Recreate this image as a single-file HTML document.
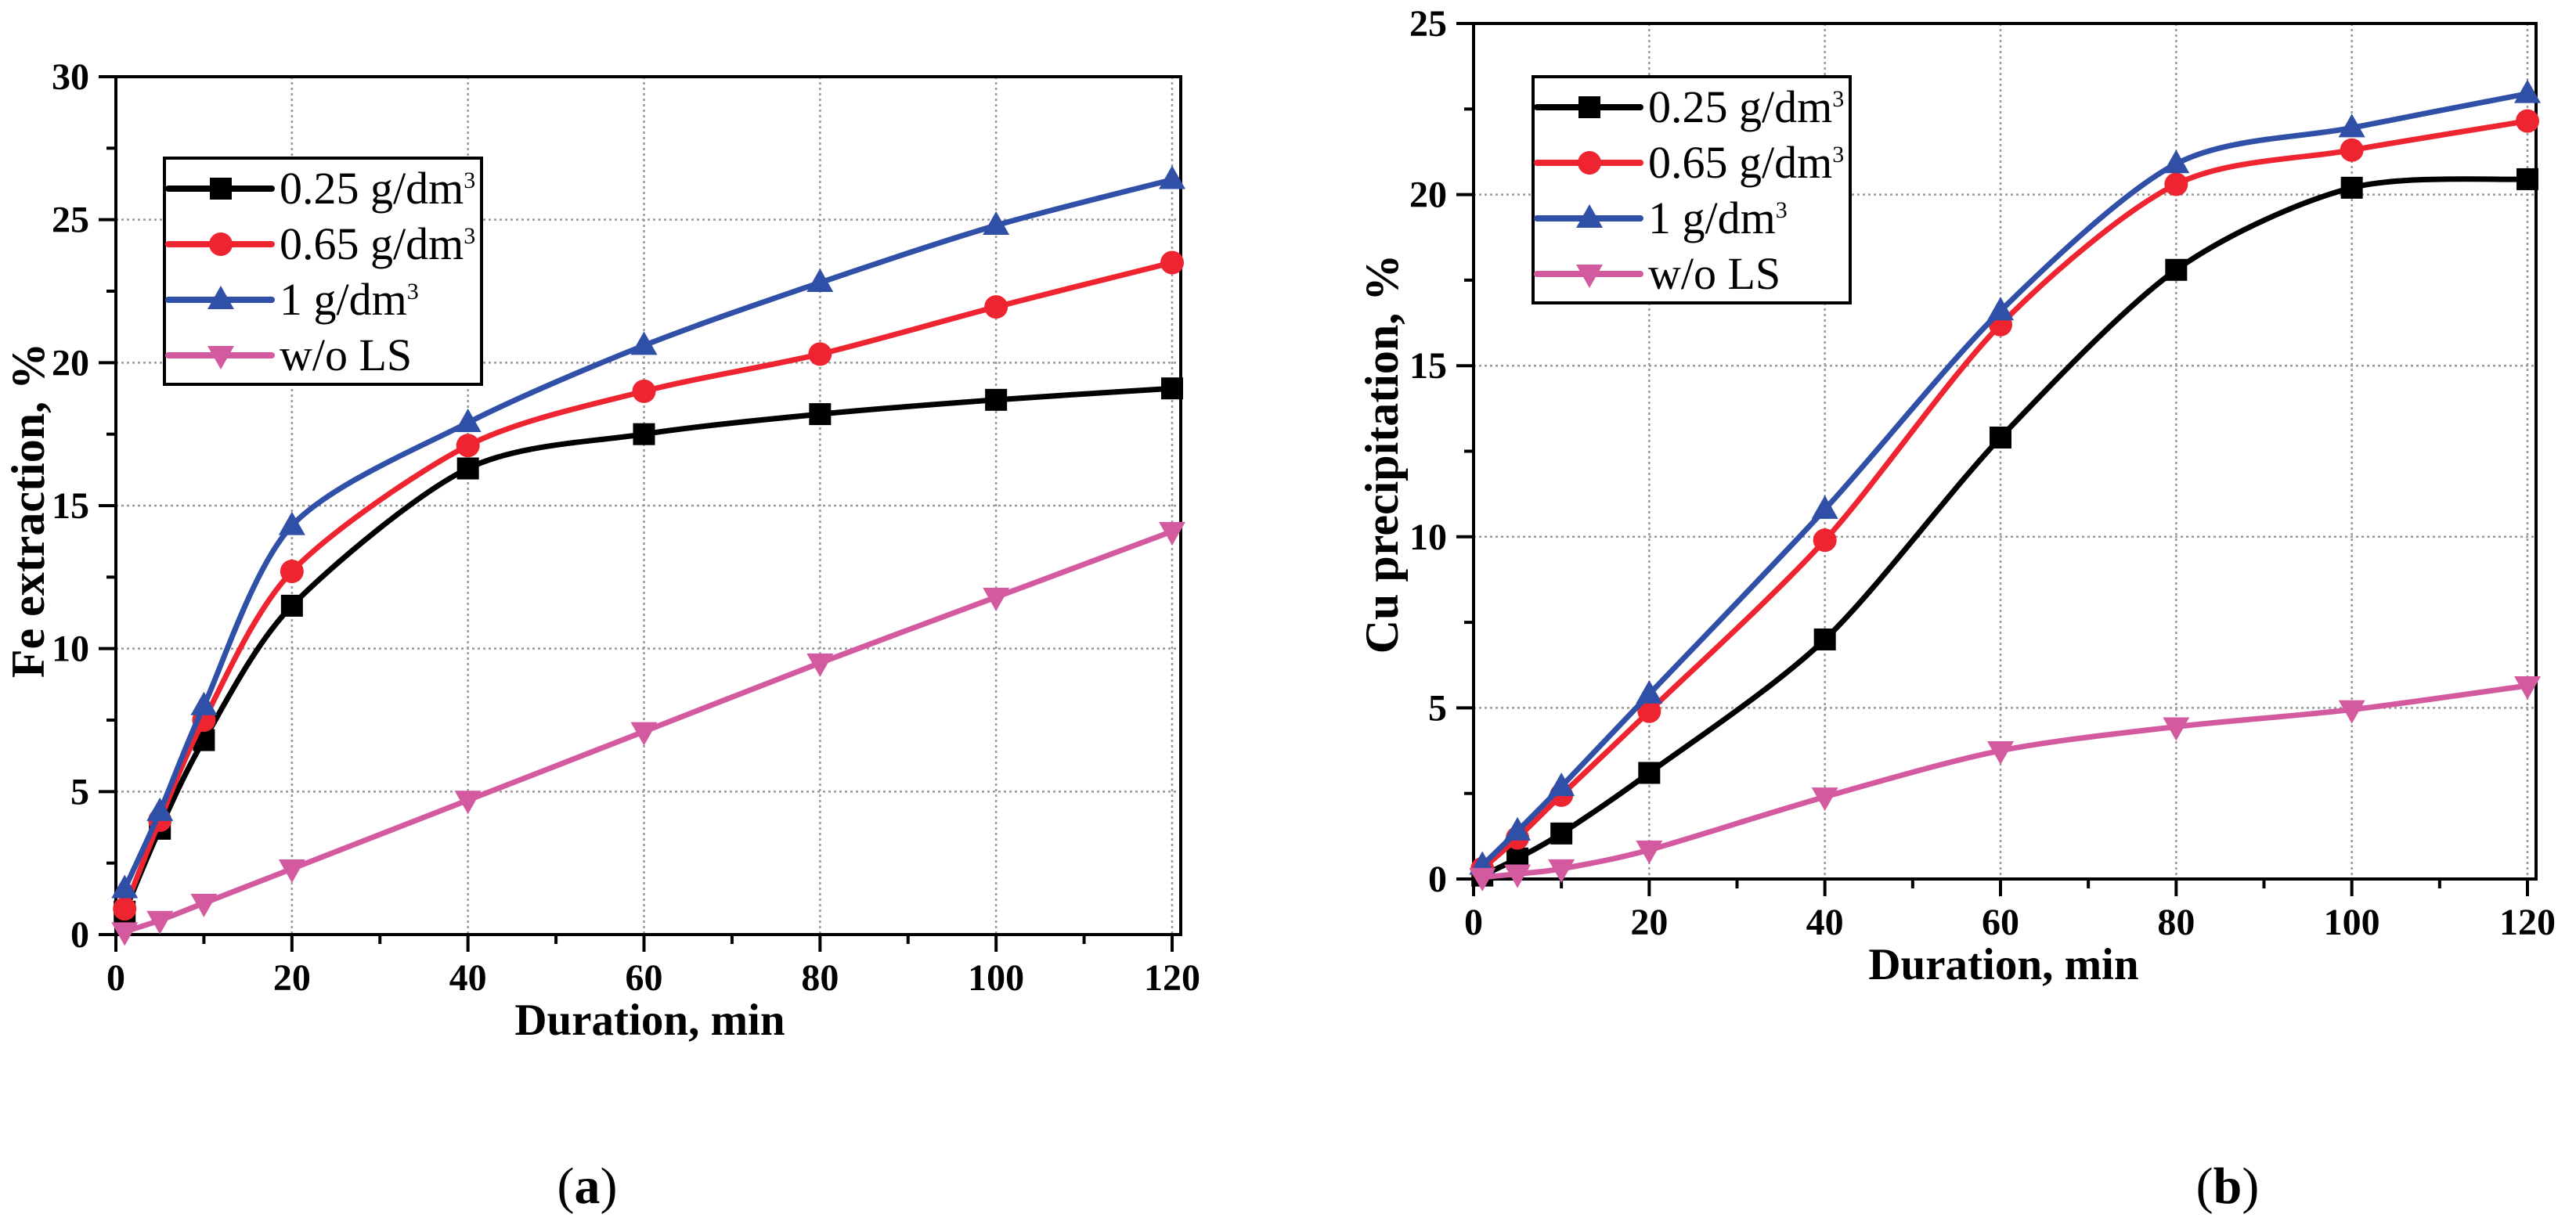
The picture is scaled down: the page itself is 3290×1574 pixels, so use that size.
<!DOCTYPE html>
<html><head><meta charset="utf-8">
<style>
html,body{margin:0;padding:0;background:#fff;}
svg{display:block;font-family:"Liberation Serif",serif;}
</style></head>
<body>
<svg id="fig" width="3290" height="1574" viewBox="0 0 3290 1574" xmlns="http://www.w3.org/2000/svg"></svg>
<script>
const durations = [1,5,10,20,40,60,80,100,120];
const xTicks = [0,20,40,60,80,100,120];
const seriesNames = ["0.25 g/dm", "0.65 g/dm", "1 g/dm", "w/o LS"];
const feBlack = [0.8,3.7,6.8,11.5,16.3,17.5,18.2,18.7,19.1];
const feRed   = [0.9,4.0,7.5,12.7,17.1,19.0,20.3,21.95,23.5];
const feBlue  = [1.6,4.3,8.0,14.3,17.9,20.6,22.8,24.8,26.4];
const fePink  = [0.1,0.5,1.1,2.3,4.7,7.1,9.5,11.8,14.1];
const feYTicks = [0,5,10,15,20,25,30];
const cuBlack = [0.1,0.6,1.33,3.1,7.0,12.9,17.8,20.2,20.45];
const cuRed   = [0.3,1.2,2.45,4.9,9.9,16.2,20.3,21.3,22.15];
const cuBlue  = [0.4,1.4,2.7,5.4,10.8,16.6,20.9,21.95,22.95];
const cuPink  = [0.05,0.15,0.3,0.85,2.4,3.75,4.45,4.95,5.65];
const cuYTicks = [0,5,10,15,20,25];

const NS="http://www.w3.org/2000/svg";
const svg=document.getElementById('fig');
function mk(tag,attrs,parent){const e=document.createElementNS(NS,tag);for(const k in attrs)e.setAttribute(k,attrs[k]);(parent||svg).appendChild(e);return e;}
const colors=["#000000","#ee2530","#3050a8","#d45aa0"];
const markers=["square","circle","tri","tridown"];

function marker(g,type,x,y,c){
  let e;
  if(type==="square") e=mk('rect',{x:x-14,y:y-14,width:28,height:28,fill:c},g);
  else if(type==="circle") e=mk('circle',{cx:x,cy:y,r:15,fill:c},g);
  else if(type==="tri") e=mk('polygon',{points:`${x},${y-18} ${x+17},${y+12} ${x-17},${y+12}`,fill:c},g);
  else e=mk('polygon',{points:`${x},${y+18} ${x+17},${y-12} ${x-17},${y-12}`,fill:c},g);
  return e;
}
function smoothPath(pts){
  let d=`M${pts[0][0]},${pts[0][1]}`;
  for(let i=0;i<pts.length-1;i++){
    const p0=pts[Math.max(0,i-1)],p1=pts[i],p2=pts[i+1],p3=pts[Math.min(pts.length-1,i+2)];
    const t=7;
    const c1=[p1[0]+(p2[0]-p0[0])/t,p1[1]+(p2[1]-p0[1])/t];
    const c2=[p2[0]-(p3[0]-p1[0])/t,p2[1]-(p3[1]-p1[1])/t];
    d+=` C${c1[0]},${c1[1]} ${c2[0]},${c2[1]} ${p2[0]},${p2[1]}`;
  }
  return d;
}

function chart(cfg){
  const g=mk('g',{});
  
  
  const {L,R,T,B,ymax}=cfg;
  const x0=cfg.x0, x120=cfg.x120;
  const sx=v=>x0+(x120-x0)*v/120;
  const sy=v=>B-(B-T)*v/ymax;
  const grid=mk('g',{},g);
  
  
  xTicks.forEach(t=>{ if(t>0) mk('line',{x1:sx(t),x2:sx(t),y1:T,y2:B,stroke:'#999',"stroke-width":2.5,"stroke-dasharray":"3 4"},grid);});
  cfg.yTicks.forEach(t=>{ if(t>0&&t<ymax) mk('line',{x1:L,x2:R,y1:sy(t),y2:sy(t),stroke:'#999',"stroke-width":2.5,"stroke-dasharray":"3 4"},grid);});
  const fr=mk('rect',{x:L,y:T,width:R-L,height:B-T,fill:'none',stroke:'#000',"stroke-width":4},g);
  
  
  const xa=mk('g',{},g);
  
  
  for(let v=0;v<=120;v+=10){
    const major=v%20===0;
    mk('line',{x1:sx(v),x2:sx(v),y1:B,y2:B+(major?22:12),stroke:'#000',"stroke-width":4},xa);
  }
  xTicks.forEach(t=>{
    const tx=mk('text',{x:sx(t),y:B+71,"text-anchor":"middle","font-size":48,"font-weight":"bold"},xa);
    tx.textContent=t;
    
    
  });
  const xt=mk('text',{x:cfg.xTitleX,y:B+128,"text-anchor":"middle","font-size":57,"font-weight":"bold"},g);
  xt.textContent="Duration, min";
  
  
  const ya=mk('g',{},g);
  
  
  for(let v=0;v<=ymax;v+=2.5){
    const major=v%5===0;
    mk('line',{x1:L,x2:L-(major?22:12),y1:sy(v),y2:sy(v),stroke:'#000',"stroke-width":4},ya);
  }
  cfg.yTicks.forEach(t=>{
    const tx=mk('text',{x:L-34,y:sy(t)+16,"text-anchor":"end","font-size":48,"font-weight":"bold"},ya);
    tx.textContent=t;
    
    
  });
  const yt=mk('text',{x:0,y:0,"text-anchor":"middle","font-size":60,"font-weight":"bold",transform:`translate(${cfg.yTitleX},${cfg.yTitleY}) rotate(-90)`},g);
  yt.textContent=cfg.yTitle;
  
  
  cfg.series.forEach((vals,i)=>{
    const sg=mk('g',{},g);
    
    
    const pts=durations.map((d,j)=>[sx(d),sy(vals[j])]);
    mk('path',{d:smoothPath(pts),fill:'none',stroke:colors[i],"stroke-width":7,"stroke-linejoin":"round"},sg);
    pts.forEach(p=>{
      const m=marker(sg,markers[i],p[0],p[1],colors[i]);
      
      
    });
  });
  const lg=mk('g',{},g);
  
  
  mk('rect',{x:cfg.legX,y:cfg.legY,width:405,height:289,fill:'#fff',stroke:'#000',"stroke-width":4},lg);
  seriesNames.forEach((n,i)=>{
    const ey=cfg.legY+39+i*71;
    const eg=mk('g',{},lg);
    
    
    mk('line',{x1:cfg.legX+5,x2:cfg.legX+137,y1:ey,y2:ey,stroke:colors[i],"stroke-width":8,"stroke-linecap":"round"},eg);
    marker(eg,markers[i],cfg.legX+72,ey,colors[i]);
    const tx=mk('text',{x:cfg.legX+147,y:ey+19,"font-size":58},eg);
    tx.textContent=n;
    if(i<3){const s=mk('tspan',{"font-size":30,dy:-20},tx);s.textContent="3";}
  });
}

chart({name:'chart-fe-extraction',L:148,R:1508,T:98,B:1194,x0:148,x120:1497,ymax:30,yTicks:feYTicks,
  series:[feBlack,feRed,feBlue,fePink],yTitle:"Fe extraction, %",yTitleX:56,yTitleY:652,xTitleX:830,legX:210,legY:202});
chart({name:'chart-cu-precipitation',L:1882,R:3239,T:30,B:1123,x0:1882,x120:3228,ymax:25,yTicks:cuYTicks,
  series:[cuBlack,cuRed,cuBlue,cuPink],yTitle:"Cu precipitation, %",yTitleX:1785,yTitleY:580,xTitleX:2559,legX:1958,legY:98});

[["(","a",")",750,"panel-label-a"],["(","b",")",2845,"panel-label-b"]].forEach(p=>{
  const t=mk('text',{x:p[3],y:1537,"text-anchor":"middle","font-size":66});
  
  
  const a=mk('tspan',{},t);a.textContent=p[0];
  const b=mk('tspan',{"font-weight":"bold"},t);b.textContent=p[1];
  const c=mk('tspan',{},t);c.textContent=p[2];
});
</script>
</body></html>
